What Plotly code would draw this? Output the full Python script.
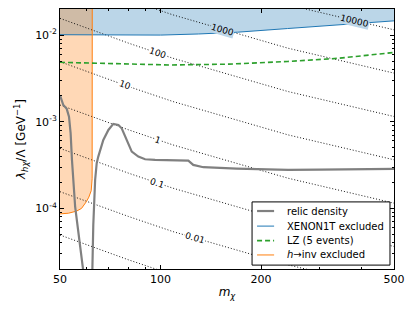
import numpy as np
import plotly.graph_objects as go

# ---------------- data ----------------
# dotted iso-contours (labelled values), lambda vs m
contour_m = [50, 64, 80, 109, 150, 241, 350, 500]
lam_0p001 = [4.93e-5, 3.48e-5, 2.56e-5, 1.71e-5, 1.19e-5, 7.05e-6, 5.03e-6, 3.64e-6]
lam_0p01 = [1.56e-4, 1.10e-4, 8.1e-5, 5.4e-5, 3.77e-5, 2.23e-5, 1.59e-5, 1.15e-5]
lam_0p1 = [4.93e-4, 3.48e-4, 2.56e-4, 1.71e-4, 1.19e-4, 7.05e-5, 5.03e-5, 3.64e-5]
lam_1 = [1.56e-3, 1.10e-3, 8.1e-4, 5.4e-4, 3.77e-4, 2.23e-4, 1.59e-4, 1.15e-4]
lam_10 = [4.93e-3, 3.48e-3, 2.56e-3, 1.71e-3, 1.19e-3, 7.05e-4, 5.03e-4, 3.64e-4]
lam_100 = [1.56e-2, 1.10e-2, 8.1e-3, 5.4e-3, 3.77e-3, 2.23e-3, 1.59e-3, 1.15e-3]
lam_1000 = [4.93e-2, 3.48e-2, 2.56e-2, 1.71e-2, 1.19e-2, 7.05e-3, 5.03e-3, 3.64e-3]
lam_10000 = [0.156, 0.110, 0.081, 0.054, 0.0377, 0.0223, 0.0159, 0.0115]

contour_labels = ["0.001", "0.01", "0.1", "1", "10", "100", "1000", "10000"]
contour_lams = [lam_0p001, lam_0p01, lam_0p1, lam_1, lam_10, lam_100, lam_1000, lam_10000]
# where each label sits (m), None = unlabelled
label_m = [None, 126.8, 97.5, 98.0, 78.3, 98.0, 153.8, 382.0]

# relic density (two branches)
relic_m1 = [50, 51.15, 52.37, 53.2, 53.8, 54.3, 55.5, 57.1, 58.6, 58.8]
relic_l1 = [2.01e-3, 1.56e-3, 1.41e-3, 1.145e-3, 7.37e-4, 3.62e-4, 1.05e-4, 4.33e-5, 2.0e-5, 1.8e-5]
relic_m2 = [62.5, 62.5, 62.9, 63.7, 64.4, 65.1, 67.4, 69.8, 72.2, 74.8, 76.5, 79.2, 82.0,
            85.8, 89.9, 96.3, 109.2, 121.1, 125.3, 134.3, 169, 241, 300, 500]
relic_l2 = [1.8e-5, 2.0e-5, 6.45e-5, 2.13e-4, 3.32e-4, 3.96e-4, 6.17e-4, 8.04e-4, 9.44e-4,
            9.19e-4, 8.41e-4, 6.17e-4, 4.52e-4, 3.96e-4, 3.69e-4, 3.63e-4, 3.58e-4, 3.56e-4,
            3.18e-4, 2.99e-4, 2.88e-4, 2.78e-4, 2.80e-4, 2.86e-4]

# XENON1T exclusion boundary
xenon_m = [50, 70, 100, 130, 170, 240, 350, 500]
xenon_lam = [0.0101, 0.0100, 0.0100, 0.0103, 0.0108, 0.0119, 0.0133, 0.0146]

# LZ (5 events)
lz_m = [50, 75, 107, 160, 240, 340, 500]
lz_lam = [4.85e-3, 4.64e-3, 4.52e-3, 4.62e-3, 4.96e-3, 5.40e-3, 6.30e-3]

# h -> inv exclusion boundary
hinv_m = [50, 53, 56, 58, 60, 61, 62, 62.4, 62.5]
hinv_lam = [8.65e-5, 8.8e-5, 9.3e-5, 1.0e-4, 1.2e-4, 1.35e-4, 1.6e-4, 2.2e-4, 1.0]

x_ticks = [50, 100, 200, 500]
y_ticks = [1e-4, 1e-3, 1e-2]
y_ticktext = ["10<sup>-4</sup>", "10<sup>-3</sup>", "10<sup>-2</sup>"]

legend_names = ["relic density", "XENON1T excluded", "LZ (5 events)", "<i>h</i>→inv excluded"]

# ---------------- figure ----------------
BLUE = "#1f77b4"
ORANGE = "#ff7f0e"
GREEN = "#2ca02c"
GREY = "#808080"
FONT = "DejaVu Sans"
LZ_DASH = "5px,3px"

fig = go.Figure()

# XENON1T fill
fig.add_trace(go.Scatter(
    x=[40] + xenon_m + [600, 600, 40],
    y=[xenon_lam[0]] + xenon_lam + [xenon_lam[-1], 1, 1],
    fill="toself", fillcolor="rgba(31,119,180,0.3)", line=dict(width=0),
    mode="lines", showlegend=False, hoverinfo="skip"))
# h->inv fill
fig.add_trace(go.Scatter(
    x=[40] + hinv_m + [40],
    y=[hinv_lam[0]] + hinv_lam + [1],
    fill="toself", fillcolor="rgba(255,127,14,0.3)", line=dict(width=0),
    mode="lines", showlegend=False, hoverinfo="skip"))

# contours
for lab, lam in zip(contour_labels, contour_lams):
    fig.add_trace(go.Scatter(x=contour_m, y=lam, mode="lines", name=lab,
                             line=dict(color="rgba(0,0,0,0.9)", width=1, dash="1px,2px"),
                             showlegend=False, hoverinfo="skip"))

# boundary lines
fig.add_trace(go.Scatter(x=xenon_m, y=xenon_lam, mode="lines", name=legend_names[1],
                         line=dict(color=BLUE, width=1)))
fig.add_trace(go.Scatter(x=hinv_m, y=hinv_lam, mode="lines", name=legend_names[3],
                         line=dict(color=ORANGE, width=1)))
fig.add_trace(go.Scatter(x=lz_m, y=lz_lam, mode="lines", name=legend_names[2],
                         line=dict(color=GREEN, width=1.6, dash=LZ_DASH)))
fig.add_trace(go.Scatter(x=relic_m1 + [None] + relic_m2, y=relic_l1 + [None] + relic_l2,
                         mode="lines", name=legend_names[0], connectgaps=False,
                         line=dict(color=GREY, width=2.2)))

# contour labels
annotations = []
for lab, lam, lm in zip(contour_labels, contour_lams, label_m):
    if lm is None:
        continue
    lx = np.log10(lm)
    ly = np.interp(lx, np.log10(contour_m), np.log10(lam))
    dx = 0.01
    ly2 = np.interp(lx + dx, np.log10(contour_m), np.log10(lam))
    xpx_per_dec = 334.0
    ypx_per_dec = 260.0 / 3.0
    ang = np.degrees(np.arctan(-(ly2 - ly) * ypx_per_dec / (dx * xpx_per_dec)))
    bg = "rgb(188,214,233)" if lab in ("1000", "10000") else "white"
    annotations.append(dict(x=lx, y=ly, xref="x", yref="y", text=lab, showarrow=False,
                            textangle=ang, font=dict(family=FONT, size=9, color="black"),
                            bgcolor=bg, borderpad=0))

# manual legend (compact like the reference)
shapes = [dict(type="rect", xref="paper", yref="paper", x0=0.575, x1=0.988, y0=0.015, y1=0.258,
               line=dict(color="black", width=1), fillcolor="white", layer="above")]
leg_y = [0.223, 0.165, 0.109, 0.054]
leg_lines = [dict(color=GREY, width=2.2), dict(color=BLUE, width=1),
             dict(color=GREEN, width=1.6, dash=LZ_DASH), dict(color=ORANGE, width=1)]
for name, yy, ln in zip(legend_names, leg_y, leg_lines):
    shapes.append(dict(type="line", xref="paper", yref="paper", x0=0.590, x1=0.641,
                       y0=yy, y1=yy, line=ln, layer="above"))
    annotations.append(dict(x=0.674, y=yy, xref="paper", yref="paper", text=name,
                            showarrow=False, xanchor="left", yanchor="middle",
                            font=dict(family=FONT, size=10, color="black")))

fig.update_layout(
    width=415, height=312,
    margin=dict(l=60, r=21, t=9, b=43),
    paper_bgcolor="white", plot_bgcolor="white",
    font=dict(family=FONT, size=11, color="black"),
    showlegend=False,
    annotations=annotations,
    shapes=shapes,
)
fig.update_xaxes(type="log", range=[np.log10(50), np.log10(500)],
                 tickvals=x_ticks, ticktext=[str(v) for v in x_ticks],
                 ticks="inside", ticklen=4, tickcolor="black", mirror="allticks",
                 showline=True, linecolor="black", linewidth=1, showgrid=False, zeroline=False,
                 minor=dict(tickvals=[60, 70, 80, 90, 300, 400], ticks="inside", ticklen=2,
                            tickcolor="black", showgrid=False),
                 title=dict(text="<i>m</i><sub><i>χ</i></sub>", font=dict(size=12), standoff=2))
y_minor = [k * 10.0 ** e for e in (-5, -4, -3, -2) for k in range(2, 10) if 2e-5 <= k * 10.0 ** e <= 2e-2]
fig.update_yaxes(type="log", range=[np.log10(2e-5), np.log10(2e-2)],
                 tickvals=y_ticks, ticktext=y_ticktext,
                 ticks="inside", ticklen=4, tickcolor="black", mirror="allticks",
                 showline=True, linecolor="black", linewidth=1, showgrid=False, zeroline=False,
                 minor=dict(tickvals=y_minor, ticks="inside", ticklen=2, tickcolor="black",
                            showgrid=False),
                 title=dict(text="<i>λ</i><sub><i>hχ</i></sub>/Λ [GeV<sup>−1</sup>]",
                            font=dict(size=12), standoff=6))

fig.write_html("out.html", config={"displayModeBar": False},
               post_script="document.body.style.margin='0';")
